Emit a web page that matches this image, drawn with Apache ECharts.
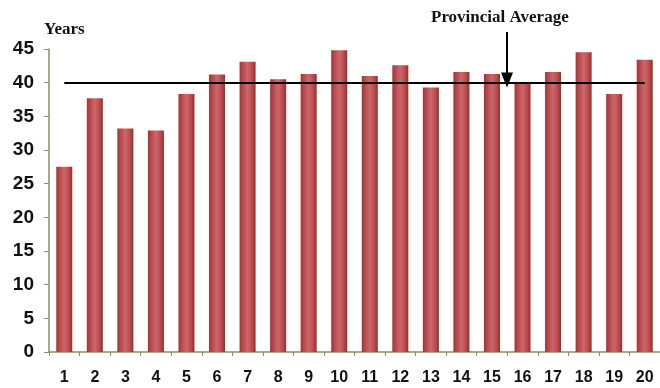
<!DOCTYPE html>
<html><head><meta charset="utf-8">
<script src="https://cdn.jsdelivr.net/npm/echarts@6/dist/echarts.min.js"></script>
<style>html,body{margin:0;padding:0;background:#fff}#c{width:660px;height:388px}</style>
</head><body><div id="c"></div>
<script>
const categories = ['1','2','3','4','5','6','7','8','9','10','11','12','13','14','15','16','17','18','19','20'];
const years = [27.5, 37.7, 33.2, 32.9, 38.3, 41.2, 43.1, 40.5, 41.3, 44.8, 41.0, 42.6, 39.3, 41.6, 41.3, 39.9, 41.6, 44.5, 38.3, 43.4];
const provincialAverage = 40;
const yTicks = {min: 0, max: 45, interval: 5};

const chart = echarts.init(document.getElementById('c'));
chart.setOption({
  animation: false,
  grid: {left: 49, right: -1, top: 49, bottom: 36, containLabel: false},
  xAxis: {
    type: 'category', data: categories,
    axisLine: {lineStyle: {color: '#8c8c6e', width: 1.5}},
    axisTick: {show: true, length: 4, lineStyle: {color: '#8c8c6e'}},
    axisLabel: {color: '#111', fontFamily: 'Liberation Sans, Arial', fontWeight: 'bold', fontSize: 16, margin: 18}
  },
  yAxis: {
    type: 'value', min: yTicks.min, max: yTicks.max, interval: yTicks.interval,
    splitLine: {show: false},
    axisLine: {show: true, lineStyle: {color: '#8c8c6e', width: 1.5}},
    axisTick: {show: true, length: 5, lineStyle: {color: '#8c8c6e'}},
    axisLabel: {color: '#111', fontFamily: 'Liberation Sans, Arial', fontWeight: 'bold', fontSize: 19, margin: 15}
  },
  graphic: [
    {type: 'text', left: 44, top: 21, style: {text: 'Years', font: 'bold 17px "Liberation Serif", "Times New Roman", serif', fill: '#111'}},
    {type: 'text', left: 431, top: 9, style: {text: 'Provincial Average', font: 'bold 17px "Liberation Serif", "Times New Roman", serif', fill: '#111'}}
  ],
  series: [{
    type: 'bar', data: years, barWidth: 16,
    itemStyle: {
      color: {type: 'linear', x: 0, y: 0, x2: 1, y2: 0, colorStops: [
        {offset: 0, color: '#a33232'}, {offset: 0.2, color: '#b84a4c'},
        {offset: 0.5, color: '#cc676c'}, {offset: 0.8, color: '#b84a4c'}, {offset: 1, color: '#9a2a2a'}]}
    },
    markLine: {
      silent: true, animation: false,
      label: {show: false},
      data: [
        [{coord: [0, provincialAverage], symbol: 'none'}, {coord: [19, provincialAverage], symbol: 'none', lineStyle: {color: '#000', width: 2, type: 'solid'}}],
        [{x: 507, y: 32, symbol: 'none'}, {x: 507, y: 80, symbol: 'triangle', symbolSize: [12, 15], lineStyle: {color: '#000', width: 2, type: 'solid'}}]
      ],
      lineStyle: {color: '#000', width: 2, type: 'solid'}
    }
  }]
});
</script></body></html>
